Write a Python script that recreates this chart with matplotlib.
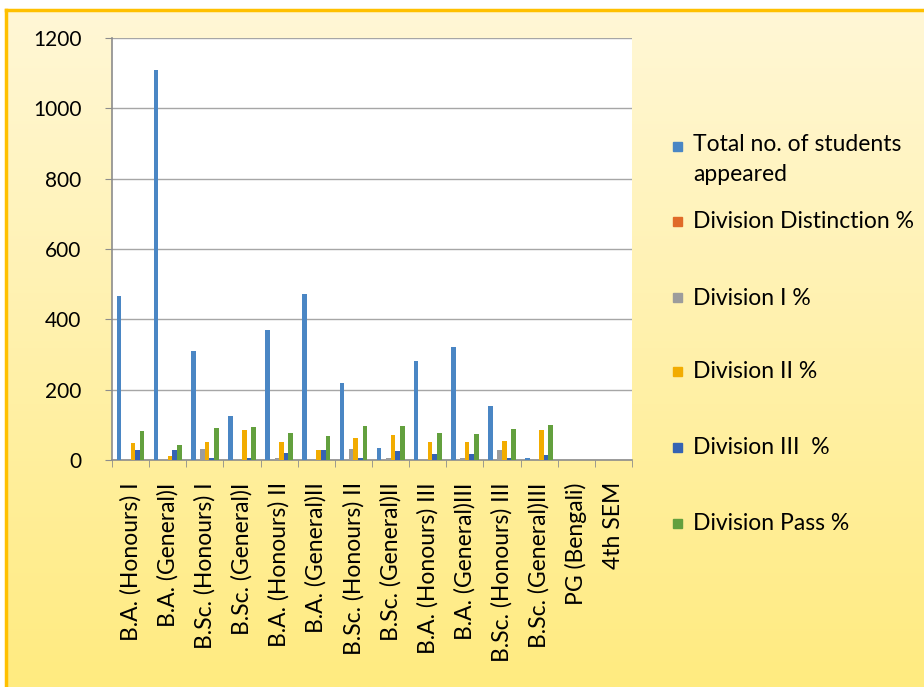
import matplotlib
matplotlib.use("Agg")
import matplotlib.pyplot as plt
import numpy as np
from matplotlib import font_manager
from matplotlib.patches import Rectangle
from matplotlib.colors import LinearSegmentedColormap

names = {f.name for f in font_manager.fontManager.ttflist}
FONT = "Liberation Sans Narrow" if "Liberation Sans Narrow" in names else "Lato"

categories = ["B.A. (Honours) I", "B.A. (General)I", "B.Sc. (Honours) I", "B.Sc. (General)I",
              "B.A. (Honours) II", "B.A. (General)II", "B.Sc. (Honours) II", "B.Sc. (General)II",
              "B.A. (Honours) III", "B.A. (General)III", "B.Sc. (Honours) III", "B.Sc. (General)III",
              "PG (Bengali)", "4th SEM"]
total_appeared = [466, 1110, 310, 125, 370, 472, 219, 34, 281, 321, 154, 5, 0, 0]
distinction = [0, 0, 0, 0, 0, 0, 0, 0, 0, 0, 0, 0, 0, 0]
div_1 = [3, 0, 31, 0, 6, 0, 31, 5, 3, 5, 28, 0, 0, 0]
div_2 = [48, 12, 51, 85, 51, 28, 63, 71, 51, 51, 54, 85, 0, 0]
div_3 = [28, 28, 6, 5, 20, 28, 6, 26, 17, 17, 6, 14, 0, 0]
div_pass = [82, 43, 91, 94, 77, 68, 97, 97, 77, 74, 88, 100, 0, 0]

series = [total_appeared, distinction, div_1, div_2, div_3, div_pass]
labels = ["Total no. of students\nappeared", "Division Distinction %", "Division I %",
          "Division II %", "Division III  %", "Division Pass %"]
colors = ["#4A86C4", "#E06A28", "#9C9C9C", "#F2AC00", "#3563B3", "#63A03E"]

W, H = 924, 687
fig = plt.figure(figsize=(W / 100, H / 100), dpi=100)
fig.patch.set_facecolor("white")

# gradient background panel
bg = fig.add_axes([6 / W, 0, 1 - 6 / W, 1 - 10 / H])
grad = np.linspace(0, 1, 256).reshape(-1, 1)
cmap = LinearSegmentedColormap.from_list("bgy", ["#FFF7D6", "#FFEB80"])
bg.imshow(grad, aspect="auto", cmap=cmap, extent=[0, 1, 0, 1], origin="upper")
bg.set_xlim(0, 1)
bg.set_ylim(0, 1)
bg.axis("off")
fig.add_artist(plt.Line2D([6 / W, 1], [1 - 10 / H, 1 - 10 / H], color="#FFC000", lw=2.5))
fig.add_artist(plt.Line2D([6 / W, 6 / W], [0, 1 - 10 / H], color="#FFC000", lw=2.5))

ax = fig.add_axes([112 / W, 1 - 460 / H, (632 - 112) / W, (460 - 38) / H])
ax.set_facecolor("white")
x = np.arange(len(categories))
bw = 1 / 8
for i, (vals, c) in enumerate(zip(series, colors)):
    ax.bar(x + (i - 2.5) * bw, vals, width=bw, color=c, zorder=3, linewidth=0)

ax.set_xlim(-0.5, len(categories) - 0.5)
ax.set_ylim(0, 1200)
ax.set_yticks(range(0, 1201, 200))
ax.yaxis.grid(True, color="#A6A6A6", lw=1.0, zorder=0)
ax.set_axisbelow(True)
for s in ["top", "right"]:
    ax.spines[s].set_visible(False)
for s in ["left", "bottom"]:
    ax.spines[s].set_color("#8C8C8C")
    ax.spines[s].set_linewidth(1.2)
ax.tick_params(axis="y", length=5, color="#8C8C8C", labelsize=15, pad=17)
ax.set_xticks(x)
ax.set_xticklabels(categories, rotation=90, fontsize=16.5, family=FONT, va="top", ha="center")
ax.tick_params(axis="x", which="major", length=0, pad=16)
ax.set_xticks(np.arange(-0.5, len(categories), 1), minor=True)
ax.tick_params(axis="x", which="minor", length=5, color="#8C8C8C")
for t in ax.get_yticklabels():
    t.set_family(FONT)

# legend
leg_y = [147, 222, 298, 372, 448, 524]
for yy, lab, c in zip(leg_y, labels, colors):
    fig.patches.append(Rectangle((673 / W, 1 - (yy + 4) / H), 9 / W, 9 / H, color=c,
                                 transform=fig.transFigure, figure=fig))
    if "\n" in lab:
        fig.text(693 / W, 1 - (yy - 13) / H, lab, fontsize=16.5, family=FONT, va="top", ha="left",
                 linespacing=1.55)
    else:
        fig.text(693 / W, 1 - yy / H, lab, fontsize=16.5, family=FONT, va="center", ha="left")

fig.savefig("out.png", dpi=100)
